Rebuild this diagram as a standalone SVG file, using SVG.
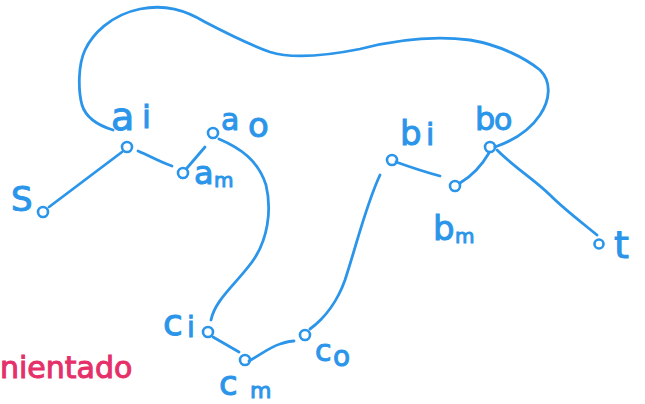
<svg xmlns="http://www.w3.org/2000/svg" width="645" height="404" viewBox="0 0 645 404">
<style>
.e{fill:none;stroke:#2b95ea;stroke-width:2.8;stroke-linecap:round;stroke-linejoin:round}
.n{fill:none;stroke:#2b95ea;stroke-width:2.6}
.t{fill:#2b95ea;stroke:#2b95ea;stroke-width:1;font-family:"DejaVu Sans",sans-serif}
.p{fill:#e5306a;stroke:#e5306a;stroke-width:1;font-family:"DejaVu Sans",sans-serif}
</style>
<rect width="645" height="404" fill="#ffffff"/>
<g id="connectors">
<path class="e" d="M113,130 C100,126 86,118 82,105 C78,90 78,65 85,50 C92,35 110,15 140,9 C165,4 185,10 205,22 C230,35 250,45 270,52 C295,60 330,55 360,49 C395,40 430,35 470,40 C500,45 525,58 540,70 C552,82 550,100 540,115 C530,130 515,140 495,147"/>
<path class="e" d="M49,207 L122,152"/>
<path class="e" d="M138,151 C150,156 160,162 172,166"/>
<path class="e" d="M187,168 L205,147"/>
<path class="e" d="M219,139 C240,148 258,160 266,185 C272,210 268,240 252,262 C235,285 215,300 211,320"/>
<path class="e" d="M213,337 L239,352"/>
<path class="e" d="M249,361 C260,355 270,347 280,344 C286,342 290,341 294,341"/>
<path class="e" d="M310,329 C325,318 338,300 345,280 C358,240 366,205 380,175"/>
<path class="e" d="M396,162 C410,167 425,172 440,176"/>
<path class="e" d="M460,183 C472,176 482,165 489,153"/>
<path class="e" d="M497,150 C515,168 535,180 550,195 C565,210 585,225 597,235"/>
</g>
<g id="s"><circle class="n" cx="43" cy="212" r="5"/><text class="t" x="11" y="211" font-size="34">S</text></g>
<g id="ai"><circle class="n" cx="127" cy="147" r="5"/><text class="t" x="111" y="130" font-size="38">a</text><text class="t" x="142" y="128" font-size="32">i</text></g>
<g id="ao"><circle class="n" cx="213" cy="133" r="5"/><text class="t" x="221" y="130" font-size="30">a</text><text class="t" x="248" y="137" font-size="34">o</text></g>
<g id="am"><circle class="n" cx="183" cy="173" r="5"/><text class="t" x="194" y="184" font-size="32">a</text><text class="t" x="214" y="187" font-size="20">m</text></g>
<g id="ci"><circle class="n" cx="208" cy="332" r="5"/><text class="t" x="163" y="335" font-size="36">c</text><text class="t" x="187" y="337" font-size="28">i</text></g>
<g id="cm"><circle class="n" cx="245" cy="360" r="5"/><text class="t" x="219" y="395" font-size="34">c</text><text class="t" x="250" y="398" font-size="22">m</text></g>
<g id="co"><circle class="n" cx="305" cy="335" r="5"/><text class="t" x="315" y="361" font-size="30">c</text><text class="t" x="333" y="366" font-size="28">o</text></g>
<g id="bi"><circle class="n" cx="392" cy="160" r="5"/><text class="t" x="400" y="145" font-size="34">b</text><text class="t" x="426" y="145" font-size="30">i</text></g>
<g id="bm"><circle class="n" cx="455" cy="186" r="5"/><text class="t" x="433" y="240" font-size="34">b</text><text class="t" x="455" y="243" font-size="20">m</text></g>
<g id="bo"><circle class="n" cx="490" cy="147" r="5"/><text class="t" x="475" y="130" font-size="32">b</text><text class="t" x="494" y="130" font-size="30">o</text></g>
<g id="t"><circle class="n" cx="599" cy="244" r="4.5"/><text class="t" x="614" y="258" font-size="38">t</text></g>
<text class="p" x="0" y="378" font-size="30">nientado</text>
</svg>
